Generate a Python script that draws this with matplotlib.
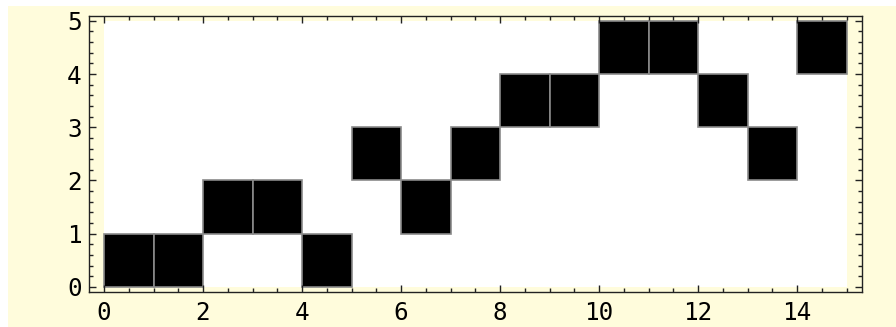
import matplotlib
matplotlib.use('Agg')
import matplotlib.pyplot as plt
from matplotlib.patches import Rectangle
from matplotlib.ticker import MultipleLocator

# column index -> row of the filled cell
cols = list(range(15))
rows = [0, 0, 1, 1, 0, 2, 1, 2, 3, 3, 4, 4, 3, 2, 4]
ncols, nrows = 15, 5

bg = '#fffcdc'
fig = plt.figure(figsize=(8.96, 3.27), dpi=100)
fig.patches.append(Rectangle((8/896, 0), 1, 1 - 6/327, transform=fig.transFigure,
                             facecolor=bg, edgecolor='none', zorder=-10))
ax = fig.add_axes([88.7/896, 35.3/327, (862-88.7)/896, (291.7-16)/327])
ax.set_facecolor(bg)

# white field, then the black cells
ax.add_patch(Rectangle((0, 0), ncols, nrows, facecolor='white', edgecolor='none'))
ax.bar(cols, [1]*len(cols), bottom=rows, width=1, align='edge',
       color='black', edgecolor='#8a8a8a', linewidth=1.2)

ax.set_xlim(-0.31, 15.31)
ax.set_ylim(-0.09, 5.09)
ax.xaxis.set_major_locator(MultipleLocator(2))
ax.xaxis.set_minor_locator(MultipleLocator(0.5))
ax.yaxis.set_major_locator(MultipleLocator(1))
ax.yaxis.set_minor_locator(MultipleLocator(0.2))
ax.tick_params(which='both', direction='in', top=True, right=True, color='#222222', width=1)
ax.tick_params(which='major', length=5)
ax.tick_params(which='minor', length=3)
ax.tick_params(axis='x', pad=7)
ax.tick_params(axis='y', pad=5)
for lab in ax.get_xticklabels() + ax.get_yticklabels():
    lab.set_fontfamily('DejaVu Sans Mono')
    lab.set_fontsize(17.5)
for s in ax.spines.values():
    s.set_color('#222222')
    s.set_linewidth(1)

fig.savefig('out.png', dpi=100)
